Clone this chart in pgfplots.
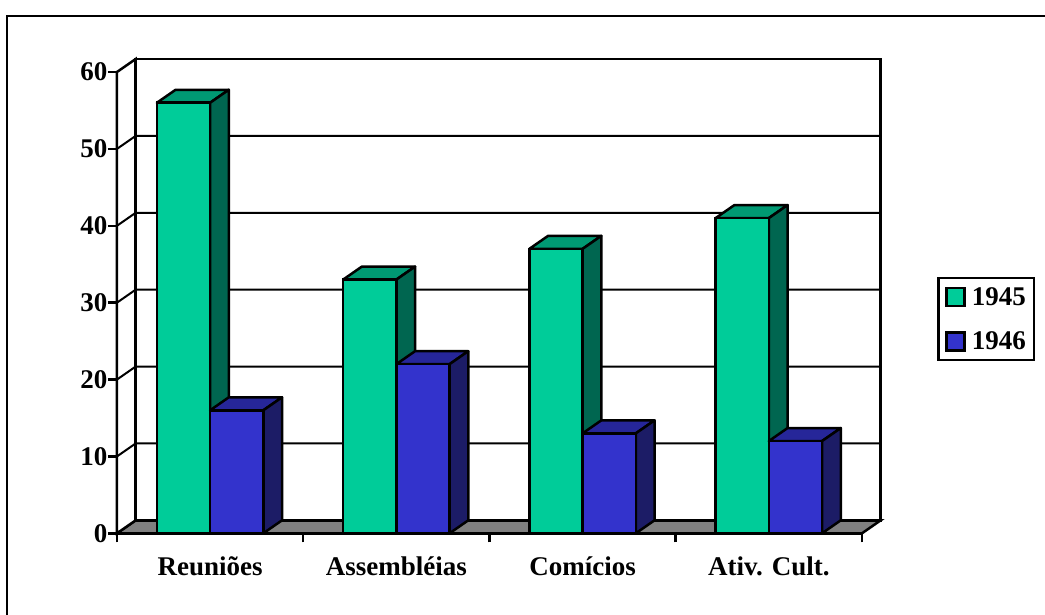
\documentclass[border=0pt]{standalone}
\usepackage{pgfplots}
\pgfplotsset{compat=1.18}
\usepackage{pgfplotstable}
\usepackage{fontspec}
\setmainfont{Liberation Serif}

\definecolor{greenfront}{HTML}{00CC99}
\definecolor{greentop}{HTML}{009973}
\definecolor{greenside}{HTML}{006650}
\definecolor{bluefront}{HTML}{3333CC}
\definecolor{bluetop}{HTML}{262699}
\definecolor{blueside}{HTML}{1C1C66}
\definecolor{floorgrey}{HTML}{808080}

\newcommand{\labelfont}{\bfseries\fontsize{27}{30}\selectfont}

% depth of the 3D box in data units
\newcommand{\dx}{0.1004}
\newcommand{\dy}{1.69}
% bar width in category units
\newcommand{\bw}{0.2857}

\pgfplotstableread{
pos  y1945 y1946
0.5  56    16
1.5  33    22
2.5  37    13
3.5  41    12
}\attendance

% top and right side of one bar: left edge, value, top colour, side colour
\newcommand{\barfaces}[4]{%
  \addplot[forget plot, fill=#3, draw=black, line width=2.5pt, line join=round]
    coordinates {(#1,#2) (#1+\bw,#2) (#1+\bw+\dx,#2+\dy) (#1+\dx,#2+\dy)} -- cycle;
  \addplot[forget plot, fill=#4, draw=black, line width=2.5pt, line join=round]
    coordinates {(#1+\bw,0) (#1+\bw+\dx,\dy) (#1+\bw+\dx,#2+\dy) (#1+\bw,#2)} -- cycle;
}
% one gridline, running over the side wall and along the back wall
\newcommand{\wallline}[1]{%
  \addplot[forget plot, draw=black, line width=2pt]
    coordinates {(0,#1) (\dx,#1+\dy) (4+\dx,#1+\dy)};
}

\begin{document}
\begin{tikzpicture}
\path[use as bounding box] (-117pt,-81.7pt) rectangle (928pt,533.3pt);
\draw[line width=2.5pt] (-110pt,-81.7pt) -- (-110pt,517.5pt) -- (928pt,517.5pt);
\begin{axis}[
  at={(0pt,0pt)}, anchor=south west,
  scale only axis, width=745pt, height=461.3pt,
  xmin=0, xmax=4, ymin=0, ymax=60,
  clip=false,
  axis x line=bottom, axis y line=left,
  axis line style={-, line width=2.5pt, black},
  tick align=outside,
  major tick length=9pt, minor tick length=9pt,
  every tick/.style={line width=2.5pt, black},
  major x tick style={draw=none},
  xtick={0.5,1.5,2.5,3.5},
  minor xtick={0,1,2,3,4},
  xticklabels={Reuniões,Assembléias,Comícios,Ativ. Cult.},
  ytick={0,10,20,30,40,50,60},
  /pgf/number format/assume math mode=true,
  tick label style={font=\labelfont},
  x tick label style={anchor=base, yshift=-33pt, inner sep=0pt},
  y tick label style={inner sep=0pt, xshift=-0.5pt},
  legend style={
    at={(1.1007,0.5556)}, anchor=north west,
    draw=black, line width=2.5pt, fill=white,
    inner xsep=7pt, inner ysep=8pt,
    row sep=23pt,
    /tikz/column 1/.style={column sep=5pt},
    nodes={inner sep=1pt, font=\labelfont},
  },
  legend cell align=left,
  legend image code/.code={
    \draw[#1, line width=2.5pt] (0pt,-9pt) rectangle (18pt,9pt);
  },
]
% floor, side wall and back wall
\addplot[forget plot, fill=floorgrey, draw=black, line width=2.5pt]
  coordinates {(0,0) (4,0) (4+\dx,\dy) (\dx,\dy)} -- cycle;
\addplot[forget plot, fill=white, draw=black, line width=2.5pt]
  coordinates {(0,0) (\dx,\dy) (\dx,60+\dy) (0,60)} -- cycle;
\addplot[forget plot, fill=white, draw=black, line width=2.5pt]
  coordinates {(\dx,\dy) (4+\dx,\dy) (4+\dx,60+\dy) (\dx,60+\dy)} -- cycle;
\wallline{10}\wallline{20}\wallline{30}\wallline{40}\wallline{50}

% 1945
\barfaces{0.2143}{56}{greentop}{greenside}
\barfaces{1.2143}{33}{greentop}{greenside}
\barfaces{2.2143}{37}{greentop}{greenside}
\barfaces{3.2143}{41}{greentop}{greenside}
\addplot[ybar, bar width=53.2pt, bar shift=-26.6pt, fill=greenfront, draw=black, line width=2.5pt]
  table[x=pos, y=y1945] {\attendance};
\addlegendentry{1945\hspace{3pt}}

% 1946
\barfaces{0.5}{16}{bluetop}{blueside}
\barfaces{1.5}{22}{bluetop}{blueside}
\barfaces{2.5}{13}{bluetop}{blueside}
\barfaces{3.5}{12}{bluetop}{blueside}
\addplot[ybar, bar width=53.2pt, bar shift=26.6pt, fill=bluefront, draw=black, line width=2.5pt]
  table[x=pos, y=y1946] {\attendance};
\addlegendentry{1946\hspace{3pt}}
\end{axis}
\end{tikzpicture}
\end{document}
